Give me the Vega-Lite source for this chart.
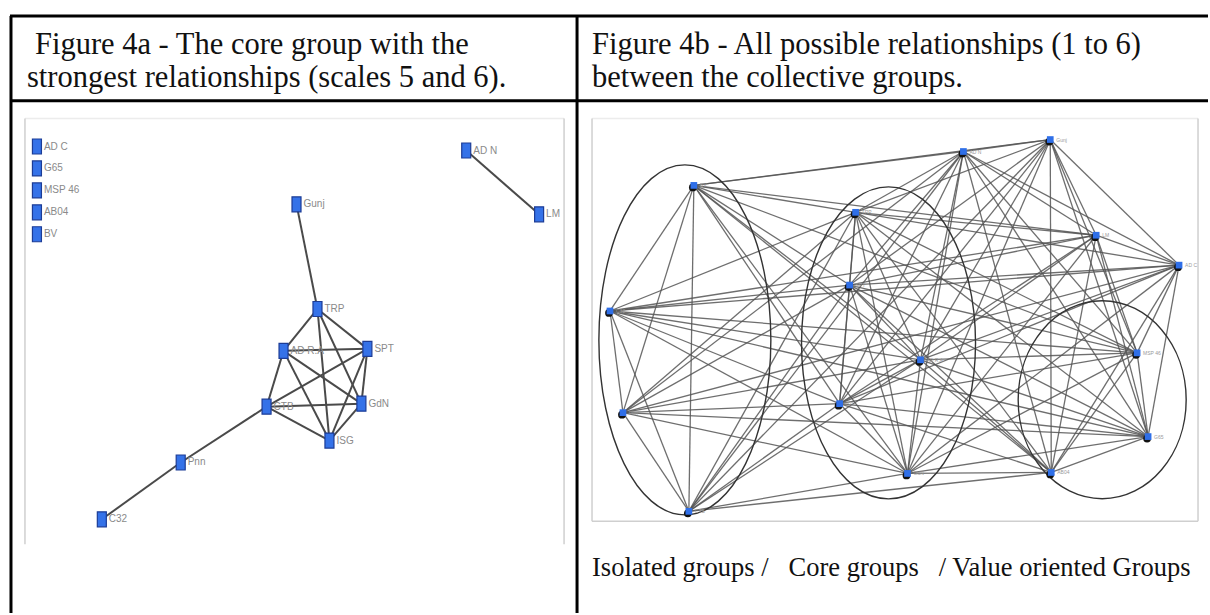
{
  "$schema": "https://vega.github.io/schema/vega-lite/v6.json",
  "autosize": {"type": "fit", "contains": "padding"},
  "width": 1210,
  "height": 615,
  "padding": 0,
  "background": "white",
  "config": {"view": {"stroke": null}},
  "datasets": {
    "borders": [
      {"x": 10, "y": 16, "x2": 1210, "y2": 16},
      {"x": 11, "y": 16, "x2": 11, "y2": 615},
      {"x": 578, "y": 16, "x2": 578, "y2": 615},
      {"x": 10, "y": 101, "x2": 1210, "y2": 101}
    ],
    "frames": [
      {"x": 25, "y": 119, "x2": 25, "y2": 546},
      {"x": 565, "y": 119, "x2": 565, "y2": 546},
      {"x": 593, "y": 119, "x2": 593, "y2": 523},
      {"x": 1200, "y": 119, "x2": 1200, "y2": 523},
      {"x": 593, "y": 523, "x2": 1200, "y2": 523}
    ],
    "framesTop": [
      {"x": 25, "y": 119, "x2": 565, "y2": 119},
      {"x": 593, "y": 119, "x2": 1200, "y2": 119}
    ],
    "texts": [
      {"t": "Figure 4a - The core group with the", "x": 35, "y": 45},
      {"t": "strongest relationships (scales 5 and 6).", "x": 27, "y": 78},
      {"t": "Figure 4b - All possible relationships (1 to 6)", "x": 593, "y": 45},
      {"t": "between the collective groups.", "x": 593, "y": 78}
    ],
    "caption": [
      {"t": "Isolated groups /\u00a0\u00a0 Core groups\u00a0\u00a0 / Value oriented Groups", "x": 593, "y": 570}
    ],
    "nodesA": [
      {"id": "AD C", "x": 37, "y": 147, "to": []},
      {"id": "G65", "x": 37, "y": 169, "to": []},
      {"id": "MSP 46", "x": 37, "y": 191, "to": []},
      {"id": "AB04", "x": 37, "y": 213, "to": []},
      {"id": "BV", "x": 37, "y": 235, "to": []},
      {"id": "AD N", "x": 467, "y": 151, "to": ["LM"]},
      {"id": "LM", "x": 540, "y": 215, "to": []},
      {"id": "Gunj", "x": 297, "y": 205, "to": ["TRP"]},
      {"id": "TRP", "x": 318, "y": 310, "to": ["AD R.A", "SPT", "GdN", "ISG"]},
      {"id": "AD R.A", "x": 284, "y": 352, "to": ["SPT", "CTB", "GdN", "ISG"]},
      {"id": "SPT", "x": 368, "y": 350, "to": ["CTB", "GdN", "ISG"]},
      {"id": "CTB", "x": 267, "y": 408, "to": ["GdN", "ISG", "Pnn"]},
      {"id": "GdN", "x": 362, "y": 405, "to": ["ISG"]},
      {"id": "ISG", "x": 330, "y": 442, "to": []},
      {"id": "Pnn", "x": 181, "y": 464, "to": ["C32"]},
      {"id": "C32", "x": 102, "y": 521, "to": []}
    ],
    "nodesB": [
      {"id": "A1", "lab": "BV", "x": 695, "y": 186, "to": ["A2", "A3", "A4", "B1", "B2", "B3", "B4", "B5", "C1", "C2", "C3", "D1", "D3"]},
      {"id": "A2", "lab": "C32", "x": 611, "y": 312, "to": ["A3", "A4", "B1", "B2", "B3", "B4", "B5", "C3", "C4", "D1", "D2"]},
      {"id": "A3", "lab": "Pnn", "x": 624, "y": 414, "to": ["A4", "B1", "B2", "B3", "B4", "B5", "C1", "C4", "D2"]},
      {"id": "A4", "lab": "CTB", "x": 690, "y": 513, "to": ["B1", "B2", "B3", "B4", "B5", "C1", "C2", "D3"]},
      {"id": "B1", "lab": "TRP", "x": 857, "y": 213, "to": ["B2", "B3", "B4", "B5", "C1", "C2", "C3", "C4", "D1", "D2", "D3"]},
      {"id": "B2", "lab": "SPT", "x": 851, "y": 286, "to": ["B3", "B4", "B5", "C1", "C2", "C3", "C4", "D1", "D2", "D3"]},
      {"id": "B3", "lab": "AD R.A", "x": 922, "y": 361, "to": ["B4", "B5", "C1", "C2", "C3", "C4", "D1", "D2", "D3"]},
      {"id": "B4", "lab": "ISG", "x": 841, "y": 405, "to": ["B5", "C1", "C2", "C3", "C4", "D1", "D2", "D3"]},
      {"id": "B5", "lab": "GdN", "x": 909, "y": 475, "to": ["C1", "C2", "C3", "C4", "D1", "D2", "D3"]},
      {"id": "C1", "lab": "AD N", "x": 965, "y": 152, "to": ["C2", "C3", "C4", "D1", "D2", "D3"]},
      {"id": "C2", "lab": "Gunj", "x": 1052, "y": 140, "to": ["C3", "C4", "D1", "D2", "D3"]},
      {"id": "C3", "lab": "LM", "x": 1098, "y": 236, "to": ["C4", "D1", "D2", "D3"]},
      {"id": "C4", "lab": "AD C", "x": 1181, "y": 266, "to": ["D1", "D2", "D3"]},
      {"id": "D1", "lab": "MSP 46", "x": 1139, "y": 354, "to": ["D2", "D3"]},
      {"id": "D2", "lab": "G65", "x": 1150, "y": 438, "to": ["D3"]},
      {"id": "D3", "lab": "AB04", "x": 1053, "y": 474, "to": []}
    ],
    "ell1": [{"x": 686, "y": 341}],
    "ell2": [{"x": 890, "y": 344}],
    "ell3": [{"x": 1104, "y": 401}]
  },
  "encoding": {
    "x": {"field": "x", "type": "quantitative", "scale": {"domain": [0, 1210], "nice": false, "zero": false}, "axis": null},
    "y": {"field": "y", "type": "quantitative", "scale": {"domain": [0, 615], "nice": false, "zero": false, "reverse": true}, "axis": null}
  },
  "layer": [
    {
      "data": {"name": "framesTop"},
      "mark": {"type": "rule", "color": "#ececec", "strokeWidth": 1.5},
      "encoding": {"x2": {"field": "x2"}, "y2": {"field": "y2"}}
    },
    {
      "data": {"name": "frames"},
      "mark": {"type": "rule", "color": "#cfcfcf", "strokeWidth": 1.5},
      "encoding": {"x2": {"field": "x2"}, "y2": {"field": "y2"}}
    },
    {
      "data": {"name": "borders"},
      "mark": {"type": "rule", "color": "#000000", "strokeWidth": 3},
      "encoding": {"x2": {"field": "x2"}, "y2": {"field": "y2"}}
    },
    {
      "data": {"name": "nodesB"},
      "transform": [
        {"flatten": ["to"], "as": ["t"]},
        {"lookup": "t", "from": {"data": {"name": "nodesB"}, "key": "id", "fields": ["x", "y"]}, "as": ["x2", "y2"]}
      ],
      "mark": {"type": "rule", "color": "#555555", "strokeWidth": 1.3, "opacity": 0.85},
      "encoding": {"x2": {"field": "x2"}, "y2": {"field": "y2"}}
    },
    {
      "data": {"name": "ell1"},
      "mark": {"type": "point", "filled": false, "color": "#333333", "strokeWidth": 1.4, "opacity": 1, "size": 122500,
        "shape": "M0,-1C0.2714,-1,0.4914,-0.5523,0.4914,0C0.4914,0.5523,0.2714,1,0,1C-0.2714,1,-0.4914,0.5523,-0.4914,0C-0.4914,-0.5523,-0.2714,-1,0,-1Z"}
    },
    {
      "data": {"name": "ell2"},
      "mark": {"type": "point", "filled": false, "color": "#333333", "strokeWidth": 1.4, "opacity": 1, "size": 97344,
        "shape": "M0,-1C0.308,-1,0.5577,-0.5523,0.5577,0C0.5577,0.5523,0.308,1,0,1C-0.308,1,-0.5577,0.5523,-0.5577,0C-0.5577,-0.5523,-0.308,-1,0,-1Z"}
    },
    {
      "data": {"name": "ell3"},
      "mark": {"type": "point", "filled": false, "color": "#333333", "strokeWidth": 1.4, "opacity": 1, "size": 39204,
        "shape": "M0,-1C0.4686,-1,0.8485,-0.5523,0.8485,0C0.8485,0.5523,0.4686,1,0,1C-0.4686,1,-0.8485,0.5523,-0.8485,0C-0.8485,-0.5523,-0.4686,-1,0,-1Z"}
    },
    {
      "data": {"name": "nodesB"},
      "mark": {"type": "point", "shape": "circle", "filled": true, "color": "#111111", "size": 60, "opacity": 1, "xOffset": -1, "yOffset": 2}
    },
    {
      "data": {"name": "nodesB"},
      "mark": {"type": "point", "shape": "square", "filled": true, "color": "#2f6fe8", "size": 45, "opacity": 1}
    },
    {
      "data": {"name": "nodesB"},
      "mark": {"type": "text", "align": "left", "baseline": "middle", "dx": 6, "fontSize": 5, "font": "Liberation Sans", "color": "#9a9a9a"},
      "encoding": {"text": {"field": "lab"}}
    },
    {
      "data": {"name": "nodesA"},
      "transform": [
        {"flatten": ["to"], "as": ["t"]},
        {"lookup": "t", "from": {"data": {"name": "nodesA"}, "key": "id", "fields": ["x", "y"]}, "as": ["x2", "y2"]}
      ],
      "mark": {"type": "rule", "color": "#4a4a4a", "strokeWidth": 2},
      "encoding": {"x2": {"field": "x2"}, "y2": {"field": "y2"}}
    },
    {
      "data": {"name": "nodesA"},
      "mark": {"type": "point", "filled": true, "color": "#3572e8", "stroke": "#1c3c96", "strokeWidth": 1.2, "opacity": 1, "size": 225,
        "shape": "M-0.6,-1L0.6,-1L0.6,1L-0.6,1Z"}
    },
    {
      "data": {"name": "nodesA"},
      "mark": {"type": "text", "align": "left", "baseline": "middle", "dx": 7, "fontSize": 10, "font": "Liberation Sans", "color": "#8a8a8a"},
      "encoding": {"text": {"field": "id"}}
    },
    {
      "data": {"name": "texts"},
      "mark": {"type": "text", "align": "left", "baseline": "middle", "fontSize": 30.5, "font": "Liberation Serif", "color": "#111111"},
      "encoding": {"text": {"field": "t"}}
    },
    {
      "data": {"name": "caption"},
      "mark": {"type": "text", "align": "left", "baseline": "middle", "fontSize": 26.5, "font": "Liberation Serif", "color": "#111111"},
      "encoding": {"text": {"field": "t"}}
    }
  ]
}
